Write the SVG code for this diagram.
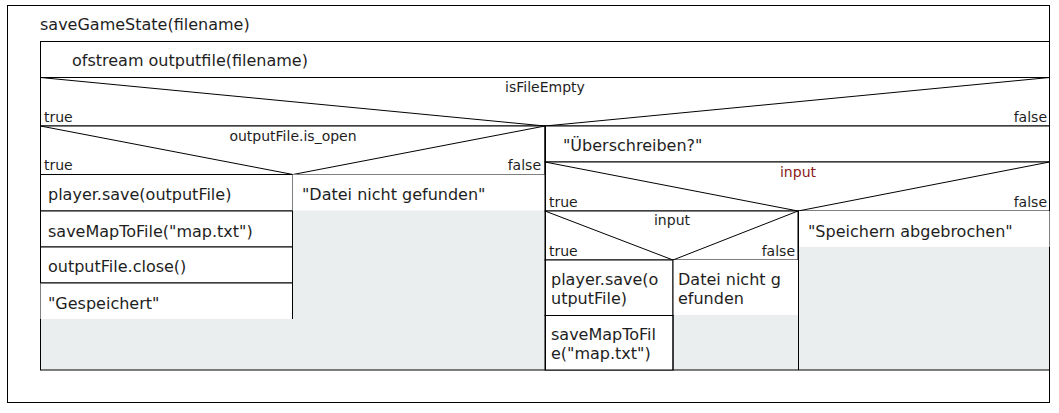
<svg xmlns="http://www.w3.org/2000/svg" width="1059" height="413" viewBox="0 0 1059 413">
<style>
  .ln { stroke:#000; stroke-width:1; fill:none; }
  .bx { stroke:#000; stroke-width:1; fill:#fff; }
  .gray { fill:#ebeeef; stroke:none; }
  .t { font-family:"DejaVu Sans", Verdana, sans-serif; font-size:16px; fill:#1e1e1e; }
  .s { font-family:"DejaVu Sans", Verdana, sans-serif; font-size:14px; fill:#1e1e1e; }
  .c { text-anchor:middle; }
  .r { text-anchor:end; }
  .red { fill:#8b1a1a; }
</style>
<rect x="0" y="0" width="1059" height="413" fill="#fff"/>
<g id="function">
  <rect class="bx" x="7.5" y="5.5" width="1042" height="397"/>
  <text class="t" x="40" y="30">saveGameState(filename)</text>
</g>
<g id="body">
  <rect class="gray" x="40.5" y="41.5" width="1009" height="328.5"/>
  <rect class="ln" x="40.5" y="41.5" width="1009" height="328.5"/>
</g>
<g id="ofstream">
  <rect class="bx" x="40.5" y="41.5" width="1009" height="36"/>
  <text class="t" x="72" y="66">ofstream outputfile(filename)</text>
</g>
<g id="isFileEmpty">
  <rect class="bx" x="40.5" y="77.5" width="1009" height="48.5"/>
  <path class="ln" d="M40.5 77.5 L545 126 L1049.5 77.5"/>
  <text class="s c" x="545" y="92">isFileEmpty</text>
  <text class="s" x="44" y="122">true</text>
  <text class="s r" x="1047" y="122">false</text>
</g>
<g id="isOpen">
  <rect class="bx" x="40.5" y="126" width="504.5" height="48.5"/>
  <path class="ln" d="M40.5 126 L293 174.5 L545 126"/>
  <text class="s c" x="293" y="141">outputFile.is_open</text>
  <text class="s" x="44" y="170">true</text>
  <text class="s r" x="541" y="170">false</text>
</g>
<g id="leftSave">
  <rect class="bx" x="40.5" y="174.5" width="252" height="36.5"/>
  <text class="t" x="48" y="200">player.save(outputFile)</text>
</g>
<g id="leftMap">
  <rect class="bx" x="40.5" y="211" width="252" height="36"/>
  <text class="t" x="48" y="237">saveMapToFile("map.txt")</text>
</g>
<g id="leftClose">
  <rect class="bx" x="40.5" y="247" width="252" height="36"/>
  <text class="t" x="48" y="272">outputFile.close()</text>
</g>
<g id="leftSaved">
  <rect class="bx" x="40.5" y="283" width="252" height="36" style="stroke:none"/>
  <path class="ln" d="M40.5 283 L292.5 283 M292.5 174.5 L292.5 319"/>
  <text class="t" x="48" y="309">"Gespeichert"</text>
</g>
<g id="leftNotFound">
  <rect class="bx" x="292.5" y="174.5" width="252.5" height="36" style="stroke:none"/>
  <text class="t" x="302" y="200">"Datei nicht gefunden"</text>
</g>
<g id="overwrite">
  <rect class="bx" x="545" y="126" width="504.5" height="36"/>
  <text class="t" x="563" y="151">"Überschreiben?"</text>
</g>
<g id="inputOuter">
  <rect class="bx" x="545" y="162" width="504.5" height="49"/>
  <path class="ln" d="M545 162 L798 211 L1049.5 162"/>
  <text class="s c red" x="798" y="177">input</text>
  <text class="s" x="549" y="207">true</text>
  <text class="s r" x="1047" y="207">false</text>
</g>
<g id="inputInner">
  <rect class="bx" x="545" y="211" width="253" height="49"/>
  <path class="ln" d="M545 211 L673 260 L798 211"/>
  <text class="s c" x="672" y="225">input</text>
  <text class="s" x="549" y="256">true</text>
  <text class="s r" x="795" y="256">false</text>
</g>
<g id="rightSave">
  <rect class="bx" x="545" y="260" width="128" height="55.5"/>
  <text class="t" x="551" y="285">player.save(o</text>
  <text class="t" x="551" y="304">utputFile)</text>
</g>
<g id="rightMap">
  <rect class="bx" x="545" y="315.5" width="128" height="54.5"/>
  <text class="t" x="551" y="340">saveMapToFil</text>
  <text class="t" x="551" y="359">e("map.txt")</text>
</g>
<g id="rightNotFound">
  <rect class="bx" x="673" y="260" width="125" height="55" style="stroke:none"/>
  <path class="ln" d="M673 260 L673 370"/>
  <text class="t" x="678" y="285">Datei nicht g</text>
  <text class="t" x="678" y="304">efunden</text>
</g>
<g id="rightCancel">
  <rect class="bx" x="798" y="211" width="251.5" height="36" style="stroke:none"/>
  <path class="ln" d="M798.5 211 L798.5 370"/>
  <text class="t" x="808" y="237">"Speichern abgebrochen"</text>
</g>
<path class="ln" d="M545.5 126 L545.5 370"/>
<g id="connectors"/>
</svg>
